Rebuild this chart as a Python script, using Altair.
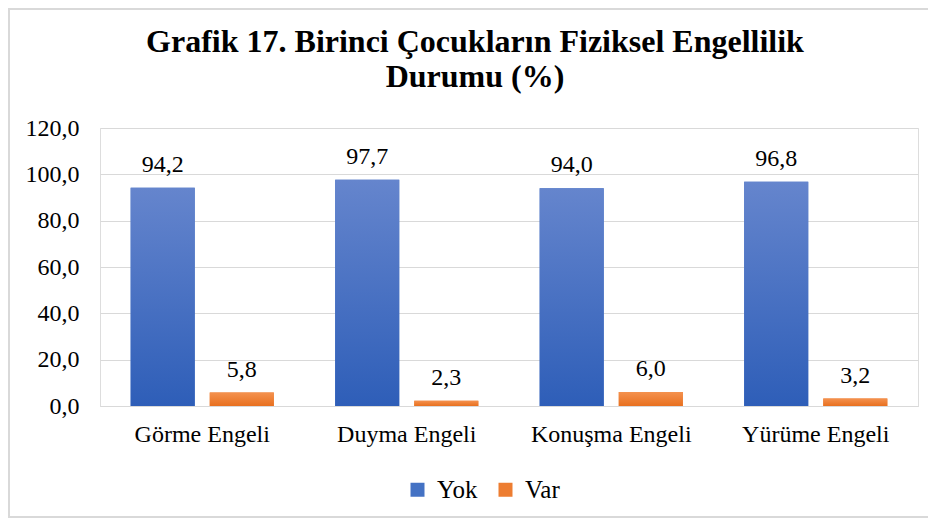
import altair as alt
import pandas as pd

categories = ["Görme Engeli", "Duyma Engeli", "Konuşma Engeli", "Yürüme Engeli"]
series = ["Yok", "Var"]
yok = [94.2, 97.7, 94.0, 96.8]
var = [5.8, 2.3, 6.0, 3.2]
title_lines = ["Grafik 17. Birinci Çocukların Fiziksel Engellilik", "Durumu (%)"]

rows = []
for c, a, b in zip(categories, yok, var):
    rows.append({"kategori": c, "seri": "Yok", "deger": a})
    rows.append({"kategori": c, "seri": "Var", "deger": b})
df = pd.DataFrame(rows)

FONT = "Liberation Serif"
W, H = 818, 278
PL, PT, PR, PB = 92, 120, 10, 112

x = alt.X("kategori:N", sort=categories,
          scale=alt.Scale(paddingInner=0.30, paddingOuter=0.15),
          axis=alt.Axis(title=None, labelAngle=0, labelFontSize=24, labelFont=FONT,
                        labelColor="#000000", labelPadding=16, ticks=False,
                        domain=True, domainColor="#d9d9d9", grid=False))
xoff = alt.XOffset("seri:N", sort=series, scale=alt.Scale(paddingInner=0.19, paddingOuter=0))
y = alt.Y("deger:Q", scale=alt.Scale(domain=[0, 120]),
          axis=alt.Axis(title=None, values=[0, 20, 40, 60, 80, 100, 120],
                        labelExpr="replace(format(datum.value, '.1f'), '.', ',')",
                        labelFontSize=24, labelFont=FONT, labelColor="#000000",
                        labelPadding=21, ticks=False, domain=False,
                        grid=True, gridColor="#d9d9d9", gridWidth=1))

base = alt.Chart(df)

bars = base.mark_bar().encode(
    x=x, xOffset=xoff, y=y,
    color=alt.Color("seri:N", sort=series,
                    scale=alt.Scale(domain=series, range=["#4472C4", "#ED7D31"]),
                    legend=alt.Legend(title=None, orient="none", direction="horizontal",
                                      legendX=305, legendY=349,
                                      symbolType="square", symbolSize=196,
                                      symbolStrokeWidth=0,
                                      labelFontSize=25, labelFont=FONT,
                                      labelColor="#000000", labelOffset=7,
                                      columnPadding=15)),
)

blue_grad = alt.LinearGradient(gradient="linear", x1=0, y1=0, x2=0, y2=1,
                               stops=[alt.GradientStop(offset=0, color="#6585CD"),
                                      alt.GradientStop(offset=1, color="#2E5EB8")])
orange_grad = alt.LinearGradient(gradient="linear", x1=0, y1=0, x2=0, y2=1,
                                 stops=[alt.GradientStop(offset=0, color="#F4914E"),
                                        alt.GradientStop(offset=1, color="#E8701F")])

gyok = base.transform_filter(alt.datum.seri == "Yok").mark_bar(color=blue_grad).encode(
    x=x, xOffset=xoff, y=y)
gvar = base.transform_filter(alt.datum.seri == "Var").mark_bar(color=orange_grad).encode(
    x=x, xOffset=xoff, y=y)

labels = base.transform_calculate(
    etiket="replace(format(datum.deger, '.1f'), '.', ',')"
).mark_text(font=FONT, fontSize=24, color="#000000", baseline="alphabetic", dy=-16).encode(
    x=x, xOffset=xoff, y=y, text="etiket:N")

tdf = pd.DataFrame({"t": title_lines, "i": [0, 1]})
title1 = alt.Chart(tdf).transform_filter(alt.datum.i == 0).mark_text(
    font=FONT, fontSize=32, fontWeight="bold", color="#000000", baseline="alphabetic", align="center"
).encode(text="t:N", x=alt.value(375), y=alt.value(-76))
title2 = alt.Chart(tdf).transform_filter(alt.datum.i == 1).mark_text(
    font=FONT, fontSize=32, fontWeight="bold", color="#000000", baseline="alphabetic", align="center"
).encode(text="t:N", x=alt.value(375), y=alt.value(-41))

one = pd.DataFrame({"a": [0]})
border_left = alt.Chart(one).mark_rule(color="#d9d9d9", strokeWidth=2).encode(
    x=alt.value(-PL + 1), y=alt.value(-PT), y2=alt.value(H + PB))
border_top = alt.Chart(one).mark_rule(color="#d9d9d9", strokeWidth=2).encode(
    x=alt.value(-PL), x2=alt.value(W + PR), y=alt.value(-PT + 1))
border_bottom = alt.Chart(one).mark_rule(color="#d9d9d9", strokeWidth=2).encode(
    x=alt.value(-PL), x2=alt.value(W + PR), y=alt.value(H + PB - 1))

chart = alt.layer(bars, gyok, gvar, labels, title1, title2,
                  border_left, border_top, border_bottom).properties(
    width=W, height=H,
    autosize=alt.AutoSizeParams(type="none"),
    padding={"left": PL, "top": PT, "right": PR, "bottom": PB},
).configure_view(stroke=None).configure(background="#ffffff")

chart.save("out.html", embed_options={"renderer": "svg", "actions": False})
